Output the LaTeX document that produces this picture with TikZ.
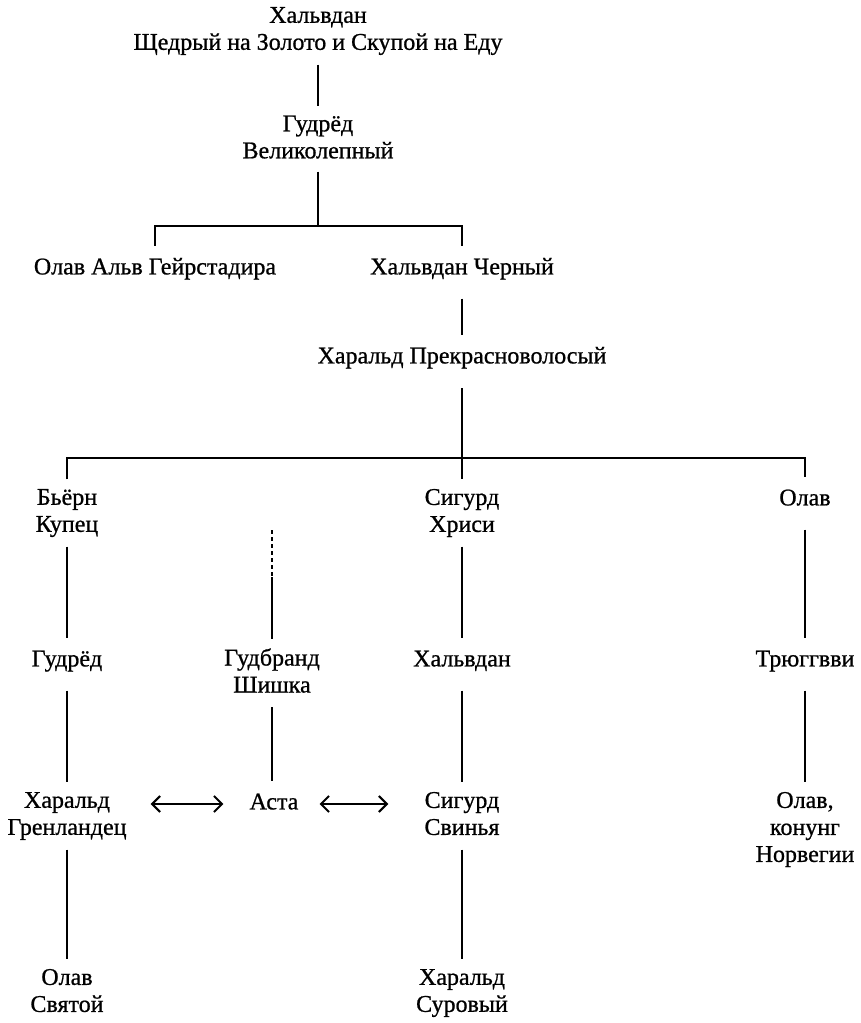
\documentclass[tikz,border=0pt]{standalone}
\usepackage{fontspec}
\setmainfont[FakeBold=0.8]{Liberation Serif}
\usetikzlibrary{arrows.meta}
\begin{document}
\begin{tikzpicture}[x=1pt,y=-1pt,
  person/.style={align=center, inner sep=0pt, font=\fontsize{24}{27}\selectfont,
    execute at begin node=\strut, execute at end node=\strut},
  line/.style={draw, line width=1.9pt},
  thinline/.style={draw, line width=1.1pt},
  link/.style={line, shorten >=9.5pt},
  from1/.style={shorten <=16pt},
  from2/.style={shorten <=6.5pt},
  arr/.style={line, line width=2pt, {Straight Barb[length=8pt,width=16pt]}-{Straight Barb[length=8pt,width=16pt]}},
  gap/.style={dash pattern=on 4pt off 3pt}
]
\fill[white] (0,0) rectangle (861,1023);
\useasboundingbox (0,0) rectangle (861,1023);

\node[person] (root) at (318,32.5) {Хальвдан\\Щедрый на Золото и Скупой на Еду};
\node[person] (gud0) at (318,141) {Гудрёд\\Великолепный};
\node[person] (olavalv) at (155,269) {Олав Альв Гейрстадира};
\node[person] (halfb) at (462,269) {Хальвдан Черный};
\node[person] (haraldf) at (462,358) {Харальд Прекрасноволосый};
\node[person] (bjorn) at (67,514.5) {Бьёрн\\Купец};
\node[person] (sigh) at (462,514.5) {Сигурд\\Хриси};
\node[person] (olav1) at (805,500) {Олав};
\node[person] (gud1) at (67,661) {Гудрёд};
\node[person] (gudbr) at (272,674.5) {Гудбранд\\Шишка};
\node[person] (halfc) at (462,661) {Хальвдан};
\node[person] (tryg) at (805,661) {Трюггвви};
\node[person] (harg) at (67,817.5) {Харальд\\Гренландец};
\node[person] (asta) at (274,804) {Аста};
\node[person] (sigs) at (462,817.5) {Сигурд\\Свинья};
\node[person] (olavk) at (805,831) {Олав,\\конунг\\Норвегии};
\node[person] (olavs) at (67,994.5) {Олав\\Святой};
\node[person] (harsur) at (462,994.5) {Харальд\\Суровый};

\coordinate (bar1) at (318,226);
\coordinate (bar2) at (462,458);
\coordinate (gbtop) at (272,530);
\coordinate (gbmid) at (272,577);

\draw[link,from2] (root) -- (gud0);
\draw[line] ([yshift=-5pt]gud0.south) -- (gud0 |- bar1);
\draw[line] ([yshift=9.5pt]olavalv.north) |- (bar1) -| ([yshift=9.5pt]halfb.north);
\draw[link,from1] (halfb) -- (haraldf);
\draw[thinline, shorten <=16.5pt] (haraldf.south) -- ([yshift=9.5pt]sigh.north);
\draw[line] ([yshift=9.5pt]bjorn.north) |- (bar2) -| ([yshift=9.5pt]olav1.north);
\draw[line] (bar2) -- ([yshift=9.5pt]sigh.north);

\draw[link,from2] (bjorn) -- (gud1);
\draw[link,from1] (gud1) -- (harg);
\draw[link,from2] (harg) -- (olavs);
\draw[line,gap] (gbtop) -- (gbmid);
\draw[link] (gbmid) -- (gudbr);
\draw[link,from2] (gudbr) -- (gudbr |- asta.north);
\draw[link,from2] (sigh) -- (halfc);
\draw[link,from1] (halfc) -- (sigs);
\draw[link,from2] (sigs) -- (harsur);
\draw[link,from1] (olav1) -- (tryg);
\draw[link,from1] (tryg) -- (olavk);

\draw[arr, shorten <=24pt, shorten >=26pt] (harg.east |- asta) -- (asta);
\draw[arr, shorten <=21pt, shorten >=36pt] (asta) -- (asta -| sigs.west);
\end{tikzpicture}
\end{document}
